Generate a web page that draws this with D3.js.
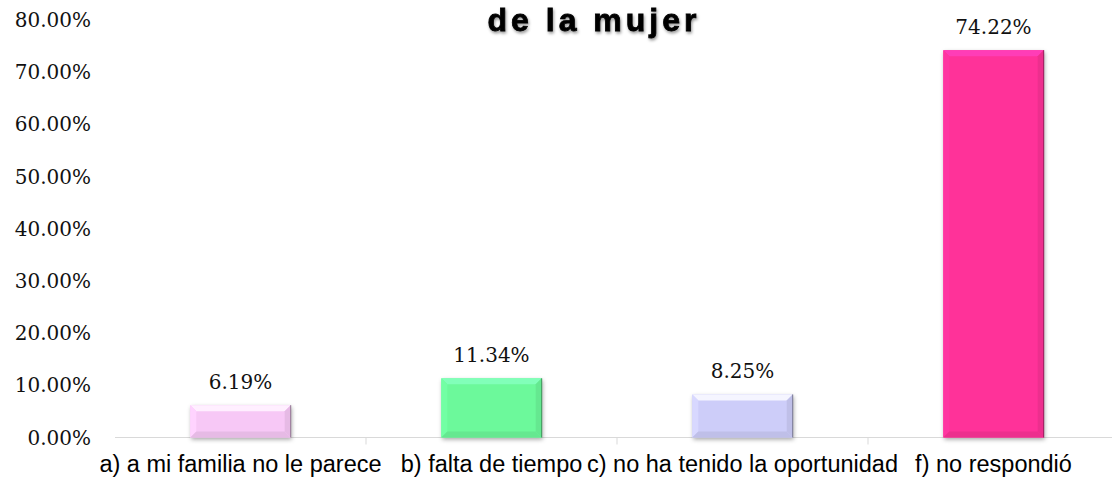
<html>
<head>
<meta charset="utf-8">
<script src="https://d3js.org/d3.v7.min.js"></script>
<style>
body { margin: 0; background: #fff; }
.tick-y { font-family: "DejaVu Serif", serif; font-size: 20px; fill: #111; }
.val { font-family: "DejaVu Serif", serif; font-size: 20px; fill: #111; }
.cat { font-family: "Liberation Sans", Arial, sans-serif; font-size: 23.5px; fill: #000; }
.title { font-family: "Liberation Sans", Arial, sans-serif; font-size: 32px; font-weight: bold; letter-spacing: 4px; fill: #000; stroke: #000; stroke-width: 0.8px; }
</style>
</head>
<body>
<svg id="chart" width="1112" height="483"></svg>
<script>
// data
var categories = ["a) a mi familia no le parece", "b) falta de tiempo", "c) no ha tenido la oportunidad", "f) no respondió"];
var values = [6.19, 11.34, 8.25, 74.22];
var colors = ["#F7C8F6", "#6CF99B", "#CDCDF9", "#FF3399"];
var yTicks = [0, 10, 20, 30, 40, 50, 60, 70, 80];

var svg = d3.select("#chart");

var x = d3.scaleBand().domain(categories).range([115, 1119]).paddingInner(0.6).paddingOuter(0.3);
var xOuter = d3.scaleBand().domain(categories).range([115, 1119]);
var y = d3.scaleLinear().domain([0, 80]).range([437.5, 20]);

var defs = svg.append("defs");
var f = defs.append("filter").attr("id", "shadow").attr("x", "-20%").attr("y", "-20%").attr("width", "140%").attr("height", "140%");
f.append("feDropShadow").attr("dx", 1).attr("dy", 2).attr("stdDeviation", 2).attr("flood-color", "#000").attr("flood-opacity", 0.35);
var tf = defs.append("filter").attr("id", "tshadow").attr("x", "-10%").attr("y", "-30%").attr("width", "120%").attr("height", "160%");
tf.append("feDropShadow").attr("dx", 1).attr("dy", 2).attr("stdDeviation", 1.5).attr("flood-color", "#000").attr("flood-opacity", 0.4);

// title (first line cut off at the top)
svg.append("text").attr("class", "title").attr("x", 594).attr("y", 31)
  .attr("text-anchor", "middle").attr("filter", "url(#tshadow)").text("de la mujer");

// y axis labels
svg.selectAll(".tick-y").data(yTicks).enter().append("text")
  .attr("class", "tick-y")
  .attr("x", 91)
  .attr("y", function(d) { return y(d); })
  .attr("dy", "0.35em")
  .attr("text-anchor", "end")
  .text(function(d) { return d.toFixed(2) + "%"; });

// x axis line and boundary ticks
svg.append("line").attr("x1", 115).attr("x2", 1112).attr("y1", y(0)).attr("y2", y(0))
  .attr("stroke", "#d9d9d9").attr("stroke-width", 1);
svg.selectAll(".xtick").data(categories.slice(1)).enter().append("line")
  .attr("x1", function(d) { return xOuter(d); })
  .attr("x2", function(d) { return xOuter(d); })
  .attr("y1", y(0)).attr("y2", y(0) + 7)
  .attr("stroke", "#d9d9d9");

// bars with bevel look
var bw = 6;
var g = svg.selectAll(".bar").data(values).enter().append("g").attr("class", "bar");
g.each(function(d, i) {
  var sel = d3.select(this);
  var x0 = x(categories[i]), w = x.bandwidth();
  var y0 = y(d), h = y(0) - y(d);
  var c = d3.color(colors[i]);
  sel.append("rect").attr("x", x0).attr("y", y0).attr("width", w).attr("height", h)
    .attr("fill", colors[i]).attr("filter", "url(#shadow)");
  var b = Math.min(bw, h / 2);
  // top bevel
  sel.append("polygon").attr("points", [[x0, y0], [x0 + w, y0], [x0 + w - b, y0 + b], [x0 + b, y0 + b]].join(" "))
    .attr("fill", c.brighter(0.5));
  // left bevel
  sel.append("polygon").attr("points", [[x0, y0], [x0 + b, y0 + b], [x0 + b, y0 + h - b], [x0, y0 + h]].join(" "))
    .attr("fill", c.brighter(0.15));
  // right bevel
  sel.append("polygon").attr("points", [[x0 + w, y0], [x0 + w - b, y0 + b], [x0 + w - b, y0 + h - b], [x0 + w, y0 + h]].join(" "))
    .attr("fill", c.darker(0.2));
  // bottom bevel
  sel.append("polygon").attr("points", [[x0, y0 + h], [x0 + b, y0 + h - b], [x0 + w - b, y0 + h - b], [x0 + w, y0 + h]].join(" "))
    .attr("fill", c.darker(0.2));
  sel.append("line").attr("x1", x0 + w).attr("x2", x0 + w).attr("y1", y0).attr("y2", y0 + h)
    .attr("stroke", c.darker(1.5)).attr("stroke-width", 1);
});

// value labels
svg.selectAll(".val").data(values).enter().append("text")
  .attr("class", "val")
  .attr("x", function(d, i) { return x(categories[i]) + x.bandwidth() / 2; })
  .attr("y", function(d) { return y(d) - 16; })
  .attr("text-anchor", "middle")
  .text(function(d) { return d.toFixed(2) + "%"; });

// category labels
svg.selectAll(".cat").data(categories).enter().append("text")
  .attr("class", "cat")
  .attr("x", function(d) { return xOuter(d) + xOuter.bandwidth() / 2; })
  .attr("y", 472)
  .attr("text-anchor", "middle")
  .text(function(d) { return d; });
</script>
</body>
</html>
